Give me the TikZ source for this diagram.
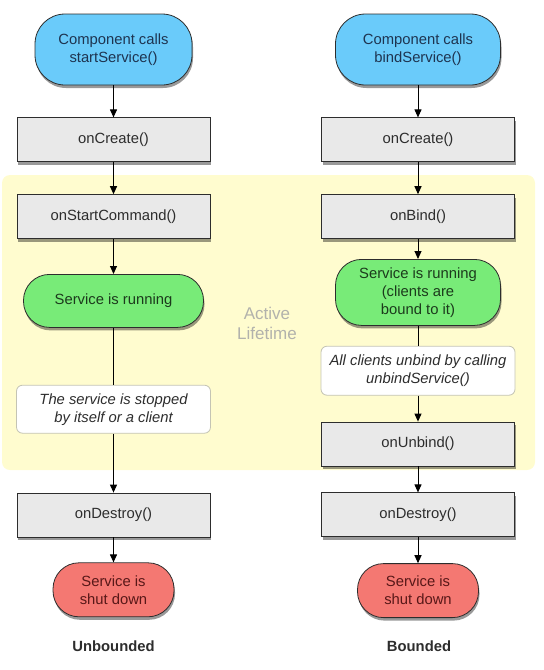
\documentclass[tikz,border=0pt]{standalone}
\usepackage{fontspec}
\setmainfont{Liberation Sans}
\usepackage{tikz}
\usetikzlibrary{
  arrows.meta,
  backgrounds,
  positioning,
  shadows
}
\definecolor{callblue}{RGB}{106,203,250}
\definecolor{callink}{RGB}{30,52,80}
\definecolor{rungreen}{RGB}{120,235,120}
\definecolor{runink}{RGB}{28,58,28}
\definecolor{shutred}{RGB}{244,120,114}
\definecolor{shutink}{RGB}{88,24,24}
\definecolor{stepgray}{RGB}{233,233,233}
\definecolor{inkgray}{RGB}{45,45,45}
\definecolor{noteedge}{RGB}{196,196,180}
\definecolor{lifeyellow}{RGB}{255,252,207}
\definecolor{lifetext}{RGB}{178,178,172}
\newcommand{\flowfont}{\fontsize{14.8}{18}\selectfont}
\tikzset{
  boxshadow/.style={drop shadow={shadow xshift=1pt,shadow yshift=-3pt,
    fill=black,opacity=0.4}},
  terminal/.style={draw=inkgray,thick,rounded corners=26pt,align=center,
    inner sep=2pt,font=\flowfont,boxshadow},
  callterm/.style={terminal,fill=callblue,text=callink,rounded corners=30pt,
    minimum height=71pt},
  runterm/.style={terminal,fill=rungreen,text=runink},
  shutterm/.style={terminal,fill=shutred,text=shutink,
    minimum width=121pt,minimum height=54pt},
  stepbox/.style={draw=inkgray,thick,fill=stepgray,text=inkgray,align=center,
    inner sep=2pt,font=\flowfont,minimum width=193pt,minimum height=44pt,
    boxshadow},
  notebox/.style={draw=noteedge,thick,fill=white,rounded corners=6pt,
    align=center,inner sep=2pt,font=\flowfont\itshape,text=inkgray,
    minimum width=194pt,minimum height=48pt},
  flow/.style={-{Triangle[length=8pt,width=7pt]},line width=1pt,draw=black},
  plainflow/.style={line width=1pt,draw=black},
  kindlab/.style={font=\flowfont\bfseries,text=inkgray},
  lifelab/.style={font=\fontsize{17}{20}\selectfont,text=lifetext,align=center}
}

\begin{document}
\begin{tikzpicture}[x=1pt,y=-1pt]
  \useasboundingbox (0,0) rectangle (544,670);
  % unbounded service
  \node[callterm,minimum width=157pt] (startcall) at (113.5,49.5)
    {Component calls\\startService()};
  \node[stepbox,below=32pt of startcall] (ucreate) {onCreate()};
  \node[stepbox,below=32pt of ucreate] (ustart) {onStartCommand()};
  \node[runterm,below=35pt of ustart,minimum width=180pt,minimum height=53pt]
    (urun) {Service is running};
  \node[notebox,below=57pt of urun] (ustop)
    {The service is stopped\\by itself or a client};
  \node[stepbox,below=59pt of ustop] (udestroy) {onDestroy()};
  \node[shutterm,below=25pt of udestroy] (ushut) {Service is\\shut down};
  \node[kindlab] (ukind) at (113.5,646) {Unbounded};
  % bounded service
  \node[callterm,minimum width=165pt] (bindcall) at (418,49.5)
    {Component calls\\bindService()};
  \node[stepbox,below=32pt of bindcall] (bcreate) {onCreate()};
  \node[stepbox,below=32pt of bcreate] (bbind) {onBind()};
  \node[runterm,below=20pt of bbind,minimum width=165pt,minimum height=66pt]
    (brun) {Service is running\\(clients are\\bound to it)};
  \node[notebox,below=20pt of brun,minimum height=49pt] (bunbindall)
    {All clients unbind by calling\\unbindService()};
  \node[stepbox,below=26pt of bunbindall] (bunbind) {onUnbind()};
  \node[stepbox,below=26pt of bunbind] (bdestroy) {onDestroy()};
  \node[shutterm,below=26pt of bdestroy] (bshut) {Service is\\shut down};
  \node[kindlab] (bkind) at (419,646) {Bounded};
  \node[lifelab] (active) at (267,323) {Active\\Lifetime};
  \begin{scope}[on background layer]
    \fill[lifeyellow,rounded corners=8pt] (2,175) rectangle (535,470);
  \end{scope}
  \draw[flow] (startcall)--(ucreate);
  \draw[flow] (ucreate)--(ustart);
  \draw[flow] (ustart)--(urun);
  \draw[plainflow] (urun)--(ustop);
  \draw[flow] (ustop)--(udestroy);
  \draw[flow] (udestroy)--(ushut);
  \draw[flow] (bindcall)--(bcreate);
  \draw[flow] (bcreate)--(bbind);
  \draw[flow] (bbind)--(brun);
  \draw[plainflow] (brun)--(bunbindall);
  \draw[flow] (bunbindall)--(bunbind);
  \draw[flow] (bunbind)--(bdestroy);
  \draw[flow] (bdestroy)--(bshut);
\end{tikzpicture}
\end{document}
